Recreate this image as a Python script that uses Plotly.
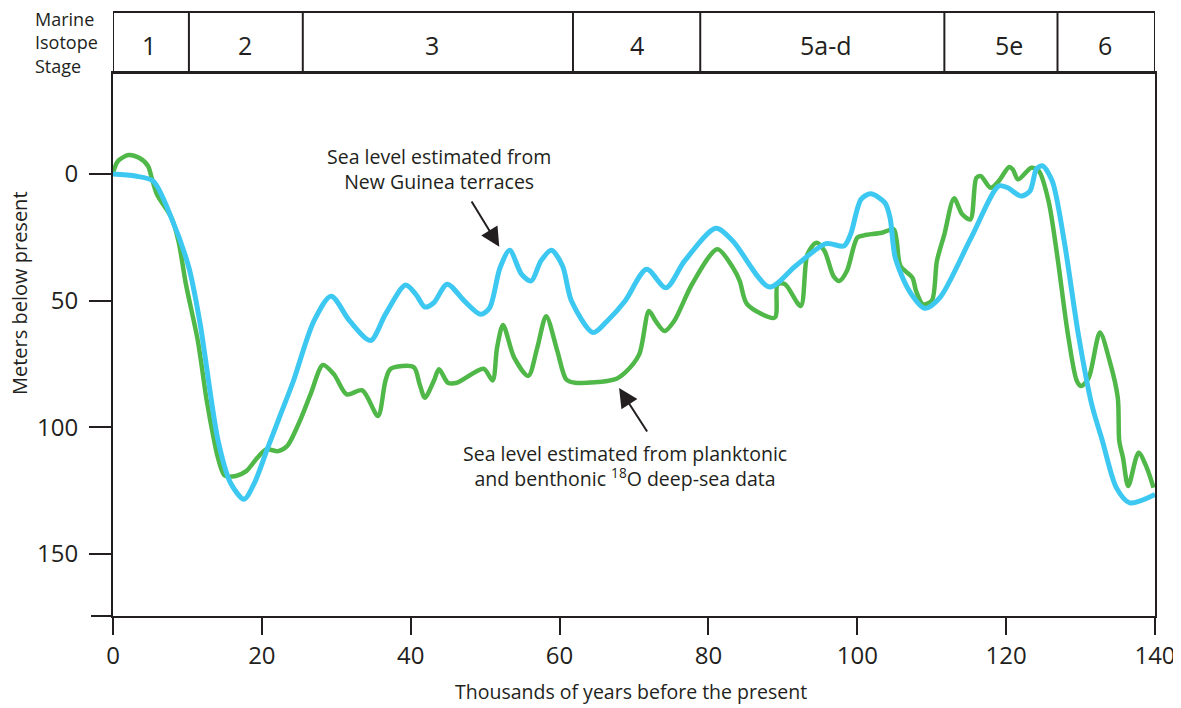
import plotly.graph_objects as go

# ---------------- data ----------------
blue_x = [0, 3, 5.4, 7.8, 10.2, 11.7, 14.1, 15.8, 17.6, 19.0, 20.8, 22.5, 24.2, 27.0, 29.3, 31.8,
          34.6, 36.6, 39.3, 40.7, 41.9, 43.1, 44.9, 47.2, 49.4, 50.6, 52.0, 53.3, 54.9, 56.2, 57.5,
          58.9, 60.4, 61.6, 64.5, 66.4, 68.8, 71.7, 74.3, 76.8, 81.0, 83.3, 88.2, 91.7, 95.8, 98.2,
          99.1, 100.5, 101.8, 103.7, 104.4, 105.1, 107.0, 109.1, 111.1, 115.3, 119.0, 120.2, 122.0,
          123.2, 124.1, 124.9, 126.2, 127.8, 129.7, 131.5, 132.9, 134.8, 136.6, 140]
blue_y = [0, 0.8, 2.8, 17, 37, 59, 105, 122, 128.4, 122, 108, 95, 82, 58, 48.2, 58,
          65.7, 55.4, 43.8, 47.5, 52.5, 50.8, 43.5, 50.1, 55.4, 52.8, 37, 30.1, 39.6, 42.2, 34.3,
          30.1, 36.3, 50.1, 62.6, 58, 50.1, 37.6, 44.9, 34.3, 21.4, 26.5, 44.6, 36.3, 27.5, 28.4,
          23.8, 10, 7.8, 11.3, 17.2, 33, 46.2, 53.0, 48.8, 25.1, 4.7, 5.4, 8.7,
          6.7, -2.2, -3.2, 2.8, 26.5, 63.3, 91, 105, 123.8, 129.8, 126.5]

green_x = [0, 0.65, 2.1, 3.5, 4.7, 5.2, 5.9, 7.85, 8.8, 9.8, 11.4, 12.6, 13.6, 14.1, 15.0, 16.5,
           17.9, 19.4, 20.6, 22.2, 23.4, 25.1, 26.6, 28.2, 29.7, 31.4, 33.5, 35.6, 36.6, 37.3,
           40.4, 41.2, 41.9, 43.1, 43.8, 45.0, 46.2, 49.8, 51.0, 51.6, 52.4, 53.9, 55.8, 57.0,
           58.2, 59.7, 60.9, 62.1, 67.4, 68.8, 70.7, 72.0, 72.9, 74.1, 75.4, 77.8, 81.2, 83.3,
           84.2, 85.2, 88.9, 89.3, 90.3, 92.4, 93.3, 94.5, 95.6, 96.8, 97.6, 98.6, 100.0, 100.9,
           103.3, 104.9, 105.3, 105.8, 107.4, 107.9, 108.8, 110.0, 110.7, 111.7, 113.0, 114.1,
           115.2, 116.0, 116.6, 117.9, 119.0, 120.4, 120.9, 121.6, 123.4, 124.4, 125.7, 126.9,
           128.3, 129.5, 130.1, 131.1, 132.6, 133.9, 135.0, 135.2, 135.7, 136.4, 137.8, 138.9,
           139.8]
green_y = [-0.5, -5.1, -7.5, -6.4, -3.2, 1.5, 8, 17.2, 26.5, 43.5, 65.9, 89.6, 105.4, 112, 119, 119.2,
           117.3, 112, 108.7, 109.4, 107.4, 97.5, 86.5, 75.4, 79.1, 87, 85.4, 95.5, 81.7, 76.9,
           76.2, 83, 88.3, 81.7, 77.1, 82.4, 82.4, 76.9, 81.5, 68.6, 59.6, 72.5, 79.7, 68.6,
           56.1, 69.9, 81.1, 82.4, 81.1, 78.4, 71.2, 54.1, 58, 62, 58, 43.5, 29.7, 37,
           42.2, 51.4, 56.7, 43.5, 43.5, 52.1, 31.7, 27.1, 30.4, 40.3, 42.2, 38.3, 25.1, 24.2,
           23.2, 21.8, 26.5, 36.3, 40.9, 46.2, 51.4, 50.1, 34.3, 23.8, 9.6, 15.9,
           17.9, 1.5, 0.8, 5.4, 2.8, -2.8, -1.8, 2.1, -2.5, -1.2, 10.7, 33,
           63.3, 81.7, 83.7, 80.4, 62.6, 73.8, 88.3, 105.4, 112, 123.2, 110, 116,
           123.8]

stage_bounds = [0, 10.2, 25.5, 61.8, 78.9, 111.7, 126.9, 140]
stage_names = ["1", "2", "3", "4", "5a-d", "5e", "6"]
stage_label_x = [4.9, 17.7, 42.9, 70.4, 95.8, 120.4, 133.3]

x_ticks = [0, 20, 40, 60, 80, 100, 120, 140]
y_ticks = [0, 50, 100, 150]

# ---------------- style ----------------
INK = "#231f20"
GREEN = "#50b848"
BLUE = "#3cc8f0"
FONT = "Open Sans"

W, H = 1181, 708
OFF = 8                      # page body margin of the html page
PW, PH = 1042, 604           # plot area incl. stage box
ML, MT = 113 - OFF, 12 - OFF
MR = W - ML - PW
MB = H - MT - PH
main_top = 1 - (73 - 12) / PH

def px_x(p):                 # screen pixel -> paper x
    return (p - 113) / PW

def px_y(p):                 # screen pixel -> paper y
    return 1 - (p - 12) / PH

fig = go.Figure()
fig.add_trace(go.Scatter(x=green_x, y=green_y, mode="lines",
                         line=dict(color=GREEN, width=4.5, shape="spline", smoothing=0.8),
                         hoverinfo="skip"))
fig.add_trace(go.Scatter(x=blue_x, y=blue_y, mode="lines",
                         line=dict(color=BLUE, width=5, shape="spline", smoothing=0.8),
                         hoverinfo="skip"))

shapes = []
shapes.append(dict(type="rect", xref="x", yref="paper", x0=0, x1=140, y0=main_top, y1=1,
                   line=dict(color=INK, width=2)))
for b in stage_bounds[1:-1]:
    shapes.append(dict(type="line", xref="x", yref="paper", x0=b, x1=b, y0=main_top, y1=1,
                       line=dict(color=INK, width=2)))
shapes.append(dict(type="line", xref="paper", yref="paper", x0=px_x(91), x1=0, y0=0, y1=0,
                   line=dict(color=INK, width=2)))

annotations = []

def text_at(px, py, txt, size, xanchor="center", angle=0, align="center"):
    annotations.append(dict(x=px_x(px), y=px_y(py), xref="paper", yref="paper", text=txt,
                            showarrow=False, xanchor=xanchor, yanchor="middle", align=align,
                            textangle=angle, font=dict(family=FONT, size=size, color=INK)))

for name, lx in zip(stage_names, stage_label_x):
    annotations.append(dict(x=lx, y=px_y(45), xref="x", yref="paper", text=name,
                            showarrow=False, font=dict(family=FONT, size=25, color=INK),
                            xanchor="center", yanchor="middle"))

text_at(33, 43, "Marine<br>Isotope<br>Stage", 18, xanchor="left", align="left")
text_at(19, 293, "Meters below present", 20, angle=-90)
text_at(631, 691, "Thousands of years before the present", 19.5)

text_at(439, 169, "Sea level estimated from<br>New Guinea terraces", 19.5)
text_at(625, 466, "Sea level estimated from planktonic<br>and benthonic <sup>18</sup>O deep-sea data", 19.5)

# arrows
annotations.append(dict(x=51.9, y=28.7, xref="x", yref="y", text="", showarrow=True,
                        ax=-28.6, ay=-46.7, arrowhead=2, arrowsize=1.9, arrowwidth=2,
                        arrowcolor=INK))
annotations.append(dict(x=68.0, y=84.5, xref="x", yref="y", text="", showarrow=True,
                        ax=29, ay=45, arrowhead=2, arrowsize=1.9, arrowwidth=2,
                        arrowcolor=INK))

fig.update_layout(
    width=W, height=H,
    margin=dict(l=ML, r=MR, t=MT, b=MB),
    paper_bgcolor="white", plot_bgcolor="white",
    showlegend=False,
    shapes=shapes, annotations=annotations,
    font=dict(family=FONT, color=INK),
    xaxis=dict(range=[0, 140], tickvals=x_ticks, ticks="outside", ticklen=17, tickwidth=2,
               tickcolor=INK, showline=True, mirror=True, linecolor=INK, linewidth=2,
               showgrid=False, zeroline=False, tickfont=dict(family=FONT, size=24, color=INK)),
    yaxis=dict(range=[174.5, -39.9], domain=[0, main_top], tickvals=y_ticks, ticks="outside",
               ticklen=22, tickwidth=2, tickcolor=INK, showline=True, mirror=True,
               linecolor=INK, linewidth=2, showgrid=False, zeroline=False,
               ticklabelstandoff=6, tickfont=dict(family=FONT, size=24, color=INK)),
)

fig.write_html("out.html")
